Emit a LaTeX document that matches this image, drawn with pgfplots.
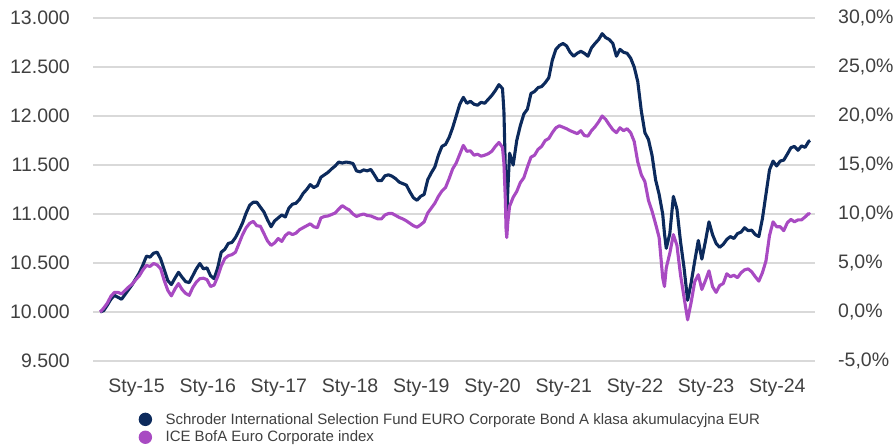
\documentclass[border=0pt]{standalone}
\usepackage{fontspec}
\setmainfont{Liberation Sans}
\usepackage{pgfplots}
\usepackage{pgfplotstable}
\pgfplotsset{compat=1.18}
\definecolor{navy}{RGB}{12,42,92}
\definecolor{purp}{RGB}{168,74,194}
\definecolor{gridc}{RGB}{217,217,217}
\definecolor{txt}{RGB}{64,64,64}
\pgfplotstableread{
t fund index
2014.49 10000 10000
2014.54 10015 10040
2014.59 10070 10090
2014.64 10130 10160
2014.69 10170 10200
2014.74 10150 10200
2014.79 10130 10185
2014.84 10180 10220
2014.89 10230 10255
2014.94 10280 10285
2014.99 10340 10330
2015.04 10400 10370
2015.09 10480 10430
2015.14 10570 10475
2015.19 10560 10465
2015.24 10600 10495
2015.29 10610 10480
2015.34 10540 10440
2015.39 10430 10320
2015.44 10320 10220
2015.49 10280 10165
2015.54 10345 10235
2015.59 10405 10290
2015.64 10355 10230
2015.69 10310 10190
2015.74 10300 10170
2015.79 10370 10250
2015.84 10440 10305
2015.89 10495 10340
2015.94 10440 10345
2015.99 10450 10330
2016.04 10370 10260
2016.09 10340 10275
2016.14 10450 10360
2016.19 10610 10470
2016.24 10640 10545
2016.29 10700 10575
2016.34 10710 10585
2016.39 10760 10610
2016.44 10830 10700
2016.49 10910 10790
2016.54 11010 10860
2016.59 11090 10905
2016.64 11120 10925
2016.69 11120 10880
2016.74 11070 10875
2016.79 11020 10800
2016.84 10940 10725
2016.89 10870 10680
2016.94 10930 10705
2016.99 10960 10750
2017.04 10990 10720
2017.09 10970 10780
2017.14 11060 10810
2017.19 11100 10790
2017.24 11110 10805
2017.29 11150 10840
2017.34 11210 10860
2017.39 11250 10880
2017.44 11300 10900
2017.49 11270 10870
2017.54 11290 10860
2017.59 11375 10960
2017.64 11400 10975
2017.69 11425 10980
2017.74 11460 10995
2017.79 11490 11010
2017.84 11530 11050
2017.89 11520 11085
2017.94 11530 11060
2017.99 11525 11040
2018.04 11515 11000
2018.09 11440 10975
2018.14 11430 10990
2018.19 11450 11000
2018.24 11440 10985
2018.29 11455 10980
2018.34 11400 10965
2018.39 11340 10950
2018.44 11340 10950
2018.49 11390 10990
2018.54 11400 11005
2018.59 11385 11005
2018.64 11360 10985
2018.69 11325 10965
2018.74 11310 10950
2018.79 11295 10930
2018.84 11225 10905
2018.89 11165 10880
2018.94 11140 10865
2018.99 11180 10890
2019.04 11200 10920
2019.09 11350 11010
2019.14 11420 11060
2019.19 11480 11110
2019.24 11600 11180
2019.29 11690 11235
2019.34 11710 11270
2019.39 11780 11360
2019.44 11880 11460
2019.49 12000 11520
2019.54 12120 11610
2019.59 12190 11700
2019.64 12130 11640
2019.69 12150 11645
2019.74 12120 11600
2019.79 12110 11610
2019.84 12140 11590
2019.89 12130 11600
2019.94 12170 11615
2019.99 12210 11640
2020.04 12260 11690
2020.09 12320 11730
2020.14 12280 11680
2020.16 12050 11520
2020.18 11450 11150
2020.19 11050 10850
2020.20 10910 10760
2020.215 11250 10920
2020.24 11620 11080
2020.29 11500 11170
2020.34 11750 11230
2020.39 11900 11320
2020.44 12020 11370
2020.49 12070 11480
2020.54 12230 11580
2020.59 12250 11600
2020.64 12290 11660
2020.69 12300 11690
2020.74 12340 11750
2020.79 12390 11770
2020.84 12570 11830
2020.89 12680 11880
2020.94 12720 11900
2020.99 12740 11885
2021.04 12715 11870
2021.09 12650 11850
2021.14 12610 11835
2021.19 12640 11820
2021.24 12660 11850
2021.29 12640 11800
2021.34 12610 11795
2021.39 12695 11850
2021.44 12740 11890
2021.49 12780 11940
2021.54 12840 12000
2021.59 12800 11965
2021.64 12780 11910
2021.69 12740 11860
2021.74 12610 11830
2021.79 12680 11880
2021.84 12650 11850
2021.89 12640 11870
2021.94 12590 11830
2021.99 12500 11740
2022.04 12350 11530
2022.09 12050 11400
2022.14 11830 11330
2022.19 11760 11140
2022.24 11600 11030
2022.29 11350 10900
2022.34 11200 10760
2022.39 11000 10350
2022.415 10800 10260
2022.44 10650 10450
2022.49 10800 10600
2022.54 11180 10790
2022.59 11050 10680
2022.64 10720 10380
2022.69 10450 10150
2022.74 10120 9920
2022.79 10300 10100
2022.84 10520 10310
2022.89 10730 10380
2022.94 10540 10230
2022.99 10720 10320
2023.04 10920 10420
2023.09 10790 10260
2023.14 10700 10200
2023.19 10660 10270
2023.24 10690 10290
2023.29 10740 10390
2023.34 10770 10360
2023.39 10750 10375
2023.44 10800 10350
2023.49 10815 10400
2023.54 10860 10430
2023.59 10830 10440
2023.64 10835 10410
2023.69 10790 10360
2023.74 10770 10315
2023.79 10950 10400
2023.84 11200 10520
2023.89 11450 10780
2023.94 11540 10920
2023.99 11490 10870
2024.04 11540 10870
2024.09 11550 10830
2024.14 11610 10910
2024.19 11675 10945
2024.24 11690 10920
2024.29 11650 10940
2024.34 11695 10940
2024.39 11680 10970
2024.44 11740 11005
2024.46 11750 10995
}\data

\begin{document}
\begin{tikzpicture}
\path[use as bounding box] (0,0) rectangle (895bp,445bp);
\begin{axis}[
  at={(93bp,84bp)}, anchor=south west,
  scale only axis, width=722bp, height=343bp,
  xmin=2014.389, xmax=2024.529,
  ymin=9500, ymax=13000,
  scaled y ticks=false, scaled x ticks=false,
  xtick={2015,2016,2017,2018,2019,2020,2021,2022,2023,2024},
  xticklabels={Sty-15,Sty-16,Sty-17,Sty-18,Sty-19,Sty-20,Sty-21,Sty-22,Sty-23,Sty-24},
  ytick={9500,10000,10500,11000,11500,12000,12500,13000},
  yticklabels={9.500,10.000,10.500,11.000,11.500,12.000,12.500,13.000},
  axis line style={draw=none},
  major tick length=0pt,
  ymajorgrids, grid style={gridc, line width=1.6bp},
  tick label style={font=\fontsize{19.5bp}{20bp}\selectfont, text=txt},
  yticklabel style={anchor=east, inner sep=0pt, xshift=-23bp},
  xticklabel style={anchor=north, inner sep=0pt, yshift=-18bp},
  legend style={at={(0.063,-0.150)}, anchor=north west, draw=none, fill=none,
    inner sep=0pt, font=\fontsize{15bp}{17bp}\selectfont, text=txt,
    row sep=4.5bp, column sep=13.5bp, cells={anchor=west}, nodes={inner sep=0pt}},
  legend image code/.code={\fill[#1] (6.5bp,0bp) circle (6.7bp);},
]
\addplot[navy, line width=3.1bp, line join=round, forget plot] table[x=t,y=fund]{\data};
\addplot[purp, line width=3.1bp, line join=round, forget plot] table[x=t,y=index]{\data};
\addlegendimage{draw=none, fill=navy}
\addlegendentry{Schroder International Selection Fund EURO Corporate Bond A klasa akumulacyjna EUR}
\addlegendimage{draw=none, fill=purp}
\addlegendentry{ICE BofA Euro Corporate index}
\end{axis}
\begin{axis}[
  at={(93bp,84bp)}, anchor=south west,
  scale only axis, width=722bp, height=343bp,
  xmin=2014.389, xmax=2024.529,
  ymin=-5, ymax=30,
  scaled y ticks=false,
  xtick=\empty,
  axis x line=none,
  axis y line*=right,
  axis line style={draw=none},
  major tick length=0pt,
  ytick={-5,0,5,10,15,20,25,30},
  yticklabels={{-5,0\%},{0,0\%},{5,0\%},{10,0\%},{15,0\%},{20,0\%},{25,0\%},{30,0\%}},
  tick label style={font=\fontsize{19.5bp}{20bp}\selectfont, text=txt},
  yticklabel style={anchor=west, inner sep=0pt, xshift=23bp},
]
\end{axis}
\end{tikzpicture}
\end{document}
